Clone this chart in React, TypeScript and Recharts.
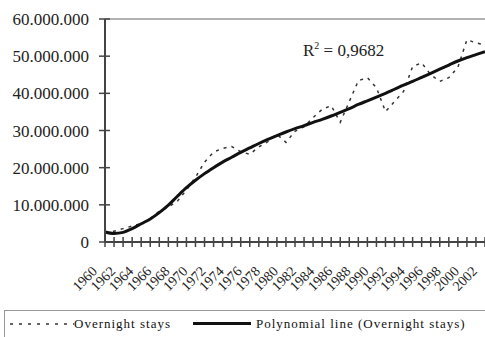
import React from 'react';
import { LineChart, Line, XAxis, YAxis, ReferenceLine } from 'recharts';

// years on the category axis
const years = [
  '1960', '1961', '1962', '1963', '1964', '1965', '1966', '1967', '1968', '1969',
  '1970', '1971', '1972', '1973', '1974', '1975', '1976', '1977', '1978', '1979',
  '1980', '1981', '1982', '1983', '1984', '1985', '1986', '1987', '1988', '1989',
  '1990', '1991', '1992', '1993', '1994', '1995', '1996', '1997', '1998', '1999',
  '2000', '2001', '2002',
];

// overnight stays, millions
const overnightStays = [
  2.7, 2.9, 3.6, 4.3, 4.9, 6.3, 8.3, 9.4, 11.0, 14.0,
  17.4, 21.5, 24.2, 25.2, 25.7, 24.3, 23.6, 25.6, 27.0, 29.0,
  26.8, 29.8, 31.0, 33.5, 35.7, 36.7, 32.2, 37.8, 43.4, 44.2,
  41.5, 35.1, 37.8, 40.5, 47.2, 48.2, 45.0, 43.2, 44.2, 47.0,
  54.4, 53.6, 53.0,
];

// polynomial trend line, millions
const polynomial = [
  2.7, 2.3, 2.6, 3.6, 4.9, 6.2, 7.9, 9.9, 12.3, 14.6,
  16.6, 18.4, 20.0, 21.5, 22.8, 24.1, 25.3, 26.5, 27.6, 28.6,
  29.6, 30.5, 31.3, 32.2, 33.0, 33.9, 34.9, 35.9, 37.0, 38.0,
  39.0, 40.0, 41.1, 42.2, 43.2, 44.3, 45.4, 46.5, 47.6, 48.7,
  49.6, 50.4, 51.2,
];

const yTicks = [0, 10, 20, 30, 40, 50, 60];

const data = years.map((year, i) => ({
  year,
  stays: overnightStays[i],
  poly: polynomial[i],
}));

const FONT = '"Liberation Serif", "Times New Roman", Times, serif';
const AXIS = '#444';

const YTick = (props: any) => {
  const { x, y, payload } = props;
  const v = payload.value;
  const label = v === 0 ? '0' : `${v}.000.000`;
  return (
    <g>
      <line x1={x - 6} x2={x + 5} y1={y} y2={y} stroke={AXIS} strokeWidth={1.5} />
      <text
        x={x - 16}
        y={y}
        dy={6}
        textAnchor="end"
        style={{ fontFamily: FONT, fontSize: 17 }}
        fill="#222"
      >
        {label}
      </text>
    </g>
  );
};

const XTick = (props: any) => {
  const { x, y, payload, index } = props;
  const ax = x - 7;
  const ay = y + 30;
  return (
    <g>
      <line x1={x} x2={x} y1={y - 5} y2={y + 5} stroke={AXIS} strokeWidth={1.5} />
      {index % 2 === 0 && (
        <text
          x={ax}
          y={ay}
          textAnchor="end"
          style={{ fontFamily: FONT, fontSize: 14 }}
          fill="#222"
          transform={`rotate(-45, ${ax}, ${ay})`}
        >
          {payload.value}
        </text>
      )}
    </g>
  );
};

function LegendBox() {
  return (
    <div
      style={{
        position: 'absolute',
        left: 4,
        top: 310,
        width: 520,
        height: 34,
        border: '1px solid #999',
        boxSizing: 'border-box',
        fontFamily: FONT,
        fontSize: 13,
        letterSpacing: 1,
        color: '#111',
      }}
    >
      <svg style={{ position: 'absolute', left: 5, top: 11 }} width={64} height={4}>
        <line x1={0} x2={64} y1={2} y2={2} stroke="#333" strokeWidth={1.5} strokeDasharray="3 6" />
      </svg>
      <span style={{ position: 'absolute', left: 69, top: 5 }}>Overnight stays</span>
      <svg style={{ position: 'absolute', left: 188, top: 10 }} width={58} height={5}>
        <line x1={0} x2={58} y1={2.5} y2={2.5} stroke="#111" strokeWidth={3} />
      </svg>
      <span style={{ position: 'absolute', left: 251, top: 5 }}>Polynomial line (Overnight stays)</span>
    </div>
  );
}

export default function App() {
  return (
    <div
      style={{
        position: 'absolute',
        left: 0,
        top: 0,
        width: 485,
        height: 337,
        overflow: 'hidden',
        background: '#fff',
      }}
    >
      <LineChart
        width={485}
        height={337}
        data={data}
        margin={{ top: 19, right: 0, left: 0, bottom: 0 }}
      >
        <XAxis
          dataKey="year"
          interval={0}
          height={95}
          tickSize={0}
          tickMargin={0}
          tickLine={false}
          tick={<XTick />}
          axisLine={{ stroke: AXIS, strokeWidth: 2 }}
        />
        <YAxis
          width={105}
          domain={[0, 60]}
          ticks={yTicks}
          tickSize={0}
          tickMargin={0}
          tickLine={false}
          tick={<YTick />}
          axisLine={{ stroke: AXIS, strokeWidth: 2 }}
        />
        <ReferenceLine y={60} stroke="#999" strokeWidth={1.5} />
        <Line
          type="linear"
          dataKey="stays"
          stroke="#333"
          strokeWidth={1.5}
          strokeDasharray="3 5"
          dot={false}
          isAnimationActive={false}
        />
        <Line
          type="monotone"
          dataKey="poly"
          stroke="#111"
          strokeWidth={3}
          dot={false}
          isAnimationActive={false}
        />
      </LineChart>
      <div
        style={{
          position: 'absolute',
          left: 303,
          top: 40,
          fontFamily: FONT,
          fontSize: 17,
          color: '#222',
        }}
      >
        R<sup style={{ fontSize: 10 }}>2</sup> = 0,9682
      </div>
      <LegendBox />
    </div>
  );
}
